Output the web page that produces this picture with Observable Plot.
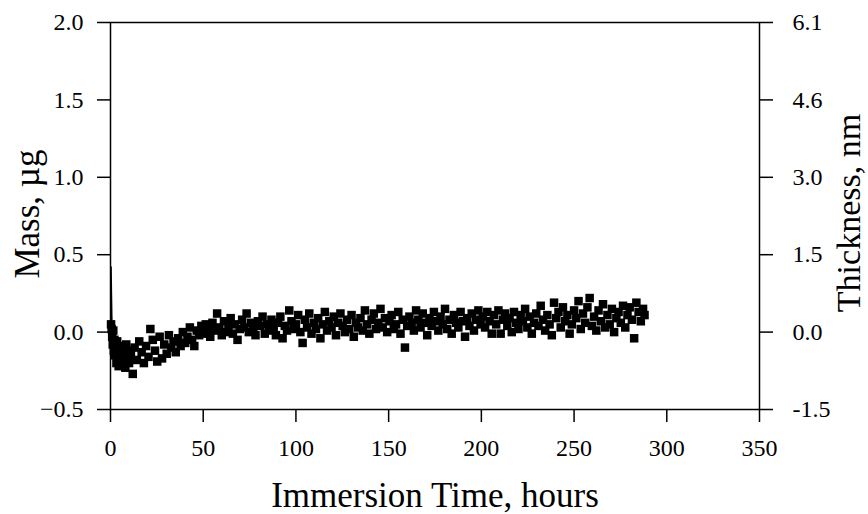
<!DOCTYPE html>
<html><head><meta charset="utf-8">
<script src="https://cdn.jsdelivr.net/npm/d3@7"></script>
<script src="https://cdn.jsdelivr.net/npm/@observablehq/plot@0.6"></script>
<style>
body{margin:0;background:#fff}
</style>
</head><body><div id="chart"></div>
<script>
const times = [
0.3,0.6,0.9,1.2,1.5,1.8,2.1,2.4,2.8,3.2,3.6,4.0,4.4,4.8,5.2,5.6,6.0,6.5,7.0,7.5,8.0,8.5,9.0,9.5,10.0,
11.0,12.0,13.0,14.2,15.5,16.8,18.0,19.2,20.5,21.5,22.8,24.0,25.2,26.5,27.8,29.0,30.3,31.5,32.8,34.0,35.2,36.5,37.8,39.0,40.3,41.5,42.8,44.0,45.2,46.5,47.8,49.0,
50.2,51.4,52.6,53.8,55.0,56.2,57.5,58.7,60.0,61.2,62.4,63.6,64.8,66.0,67.2,68.5,69.7,71.0,72.2,73.4,74.6,75.8,77.0,78.2,79.5,80.7,82.0,83.2,84.4,85.6,86.8,88.0,89.2,90.4,91.6,92.8,94.0,95.2,96.4,97.6,98.8,
100.0,101.2,102.4,103.6,104.8,106.0,107.2,108.4,109.6,110.8,112.0,113.2,114.4,115.6,116.8,118.0,119.2,120.4,121.6,122.8,124.0,125.2,126.4,127.6,128.8,130.0,131.2,132.4,133.6,134.8,136.0,137.2,138.4,139.6,140.8,142.0,143.2,144.4,145.6,146.8,148.0,149.2,
150.4,151.6,152.8,154.0,155.2,156.4,157.6,158.8,160.0,161.2,162.4,163.6,164.8,166.0,167.2,168.4,169.6,170.8,172.0,173.2,174.4,175.6,176.8,178.0,179.2,180.4,181.6,182.8,184.0,185.2,186.4,187.6,188.8,190.0,191.2,192.4,193.6,194.8,196.0,197.2,198.4,199.6,
200.8,202.0,203.2,204.4,205.6,206.8,208.0,209.2,210.4,211.6,212.8,214.0,215.2,216.4,217.6,218.8,220.0,221.2,222.4,223.6,224.8,226.0,227.2,228.4,229.6,230.8,232.0,233.2,234.4,235.6,236.8,238.0,239.2,240.4,241.6,242.8,244.0,245.2,246.4,247.6,248.8,250.0,
251.2,252.4,253.6,254.8,256.0,257.2,258.4,259.6,260.8,262.0,263.2,264.4,265.6,266.8,268.0,269.2,270.4,271.6,272.8,274.0,275.2,276.4,277.6,278.8,280.0,281.2,282.4,283.6,284.8,286.0,287.2,288.0
];
const mass = [
0.05,0.02,-0.03,-0.08,0.01,-0.12,-0.05,-0.15,-0.10,-0.20,-0.06,-0.18,-0.22,-0.13,-0.09,-0.21,-0.16,-0.11,-0.19,-0.14,-0.23,-0.08,-0.17,-0.12,-0.20,
-0.15,-0.27,-0.10,-0.18,-0.06,-0.13,-0.20,-0.09,-0.16,0.02,-0.05,-0.12,-0.19,-0.03,-0.17,-0.08,-0.14,-0.02,-0.10,-0.06,-0.13,-0.04,-0.09,0.00,-0.07,-0.03,0.03,-0.05,-0.09,0.01,-0.02,0.04,
-0.01,0.05,0.02,-0.03,0.06,0.01,0.12,0.03,-0.02,0.07,0.00,0.04,0.09,-0.01,0.05,-0.05,0.02,0.08,0.03,0.12,0.00,0.06,0.02,-0.02,0.07,0.04,0.10,-0.01,0.05,0.01,0.08,0.03,-0.02,0.06,0.10,-0.04,0.04,0.01,0.14,0.07,0.02,
0.05,0.11,0.00,-0.07,0.08,0.03,0.12,-0.01,0.06,0.02,0.09,-0.04,0.05,0.13,0.01,0.07,0.03,0.10,-0.02,0.06,0.12,0.04,0.00,0.08,0.02,0.11,-0.03,0.06,0.03,0.09,0.01,0.14,0.05,-0.01,0.08,0.12,0.02,0.06,0.15,0.03,0.09,0.00,
0.07,0.11,0.02,0.05,0.13,-0.01,0.08,-0.10,0.04,0.10,0.06,0.01,0.14,0.08,0.03,0.12,0.06,-0.02,0.09,0.04,0.13,0.07,0.01,0.10,0.05,0.15,0.02,0.08,-0.01,0.11,0.06,0.03,0.13,0.07,-0.03,0.09,0.04,0.12,0.01,0.08,0.14,0.05,
0.10,0.03,0.13,0.07,-0.01,0.11,0.05,0.14,-0.01,0.08,0.12,0.04,0.09,0.00,0.13,0.06,0.02,0.11,0.07,0.15,0.03,0.10,-0.01,0.06,0.12,0.04,0.17,0.08,0.01,0.11,0.05,-0.02,0.19,0.09,0.13,0.03,0.16,0.07,0.11,-0.01,0.05,0.14,
0.09,0.20,0.02,0.12,0.06,0.16,0.22,0.04,0.10,0.01,0.14,0.07,0.18,0.03,0.11,0.05,0.15,0.00,0.09,0.13,0.06,0.17,0.03,0.11,0.16,0.08,-0.04,0.19,0.13,0.07,0.15,0.11
];
const spikeTimes = [0.1, 0.3, 0.5, 0.7, 0.9];
const spikeMass = [0.0, 0.42, 0.25, 0.10, 0.02];
const xTicks = [0, 50, 100, 150, 200, 250, 300, 350];
const yTicks = [-0.5, 0, 0.5, 1.0, 1.5, 2.0];
const yTickLabels = ["\u22120.5", "0.0", "0.5", "1.0", "1.5", "2.0"];
const thicknessLabels = ["-1.5", "0.0", "1.5", "3.0", "4.6", "6.1"];

const data = times.map((t, i) => ({t, m: mass[i]}));
const spike = spikeTimes.map((t, i) => ({t, m: spikeMass[i]}));

const plot = Plot.plot({
  width: 868, height: 514,
  marginLeft: 110, marginRight: 109, marginTop: 22, marginBottom: 105,
  style: {fontFamily: "'Liberation Serif', 'Times New Roman', serif", color: "#000", background: "#fff"},
  x: {domain: [0, 350]},
  y: {domain: [-0.5, 2.0]},
  marks: [
    Plot.frame({stroke: "#000", strokeWidth: 1.5}),
    Plot.axisX({ticks: xTicks, tickSize: 13, tickPadding: 16, tickFormat: d => String(d), label: null, strokeWidth: 1.5, fontSize: 24}),
    Plot.axisY({anchor: "left", ticks: yTicks, tickSize: 13, tickPadding: 14, tickFormat: d => yTickLabels[yTicks.indexOf(d)], label: null, strokeWidth: 1.5, fontSize: 24}),
    Plot.axisY({anchor: "right", ticks: yTicks, tickSize: 13, tickPadding: 20, tickFormat: d => thicknessLabels[yTicks.indexOf(d)], label: null, strokeWidth: 1.5, fontSize: 24}),
    Plot.line(spike, {x: "t", y: "m", stroke: "#000", strokeWidth: 1.5}),
    Plot.dot(data, {x: "t", y: "m", symbol: "square", r: 4.8, fill: "#000"}),
    Plot.text(["Immersion Time, hours"], {frameAnchor: "bottom", dy: 97, textAnchor: "middle", lineAnchor: "bottom", fontSize: 35, fill: "#000"}),
    Plot.text(["Mass, \u00b5g"], {frameAnchor: "left", dx: -72, dy: -2, rotate: -90, textAnchor: "middle", lineAnchor: "bottom", fontSize: 35, fill: "#000"}),
    Plot.text(["Thickness, nm"], {frameAnchor: "right", dx: 100, dy: -3, rotate: -90, textAnchor: "middle", lineAnchor: "bottom", fontSize: 34, fill: "#000"})
  ]
});
document.getElementById("chart").appendChild(plot);
</script>
</body></html>
